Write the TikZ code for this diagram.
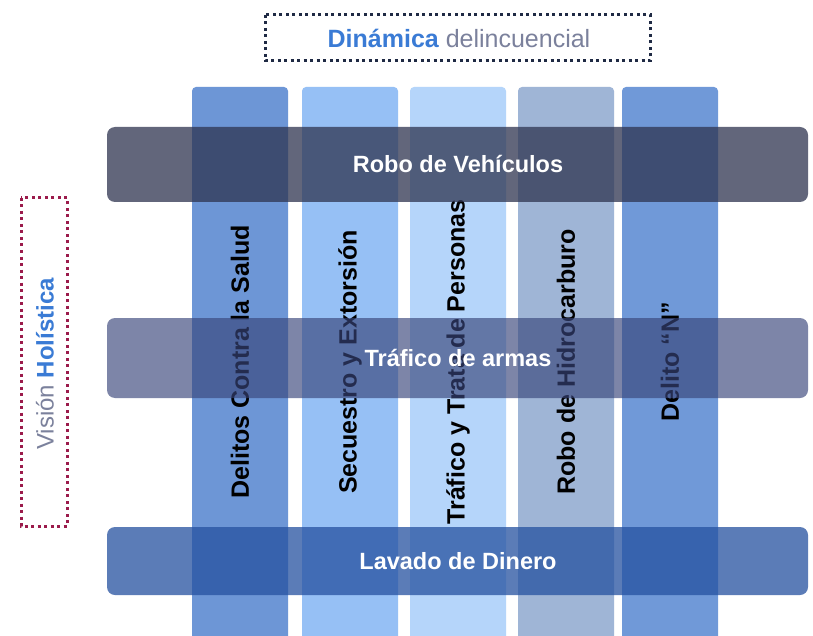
\documentclass[tikz,border=0pt]{standalone}
\usepackage{fontspec}
\setmainfont{Liberation Sans}
\usetikzlibrary{positioning}

\definecolor{colsalud}{HTML}{6D96D6}
\definecolor{colsecuestro}{HTML}{96C0F5}
\definecolor{coltrafico}{HTML}{B5D5FA}
\definecolor{colhidro}{HTML}{9FB5D6}
\definecolor{coldelito}{HTML}{7099D8}
\definecolor{bandrobo}{HTML}{2E3450}
\definecolor{bandarmas}{HTML}{38457A}
\definecolor{banddinero}{HTML}{2551A0}
\definecolor{titleblue}{HTML}{3A7BD5}
\definecolor{titlegray}{HTML}{7B819C}
\definecolor{boxnavy}{HTML}{1F2A44}
\definecolor{boxred}{HTML}{9B1B4B}

\tikzset{
  coltext/.style={rotate=90, font=\fontsize{25}{29}\selectfont\bfseries, text=black},
  bandtext/.style={font=\fontsize{23.5}{28}\selectfont\bfseries, text=white},
  dotbox/.style={line width=3pt, dash pattern=on 3pt off 3.5pt}
}

\begin{document}
\begin{tikzpicture}[x=1pt,y=-1pt]
    % picture frame
    \clip (0,0) rectangle (813,636);
    \fill[white] (0,0) rectangle (813,636);
    % the five crime columns
    \foreach \x/\c/\t [count=\i] in {192/colsalud/Delitos Contra la Salud,
        302/colsecuestro/Secuestro y Extorsión,
        410/coltrafico/Tráfico y Trata de Personas,
        518/colhidro/Robo de Hidrocarburo,
        622/coldelito/Delito “N”}{
      \fill[\c, rounded corners=4pt] (\x,87) rectangle (\x+96,660);
      \node[coltext] (col\i) at (\x+48,362) {\t};
    }
    % horizontal bands over the columns
    \fill[bandrobo, fill opacity=0.75, rounded corners=8pt] (107,127) rectangle (808,202);
    \fill[bandarmas, fill opacity=0.65, rounded corners=8pt] (107,318) rectangle (808,398);
    \fill[banddinero, fill opacity=0.75, rounded corners=8pt] (107,527) rectangle (808,595);
    % band labels
    \node[bandtext] (robo) at (458,164) {Robo de Vehículos};
    \node[bandtext] (armas) at (458,358) {Tráfico de armas};
    \node[bandtext] (dinero) at (458,561) {Lavado de Dinero};
    % top title in a dotted box
    \draw[dotbox, boxnavy] (265,15) rectangle (650,61);
    \node[font=\fontsize{25}{29}\selectfont] (dinamica) at (459,38)
      {\textcolor{titleblue}{\bfseries Dinámica} \textcolor{titlegray}{delincuencial}};
    % left title in a dotted box
    \draw[dotbox, boxred] (21,198) rectangle (67,526);
    \node[rotate=90, font=\fontsize{24}{28}\selectfont] (vision) at (45,364)
      {\textcolor{titlegray}{Visión} \textcolor{titleblue}{\bfseries Holística}};
\end{tikzpicture}
\end{document}
